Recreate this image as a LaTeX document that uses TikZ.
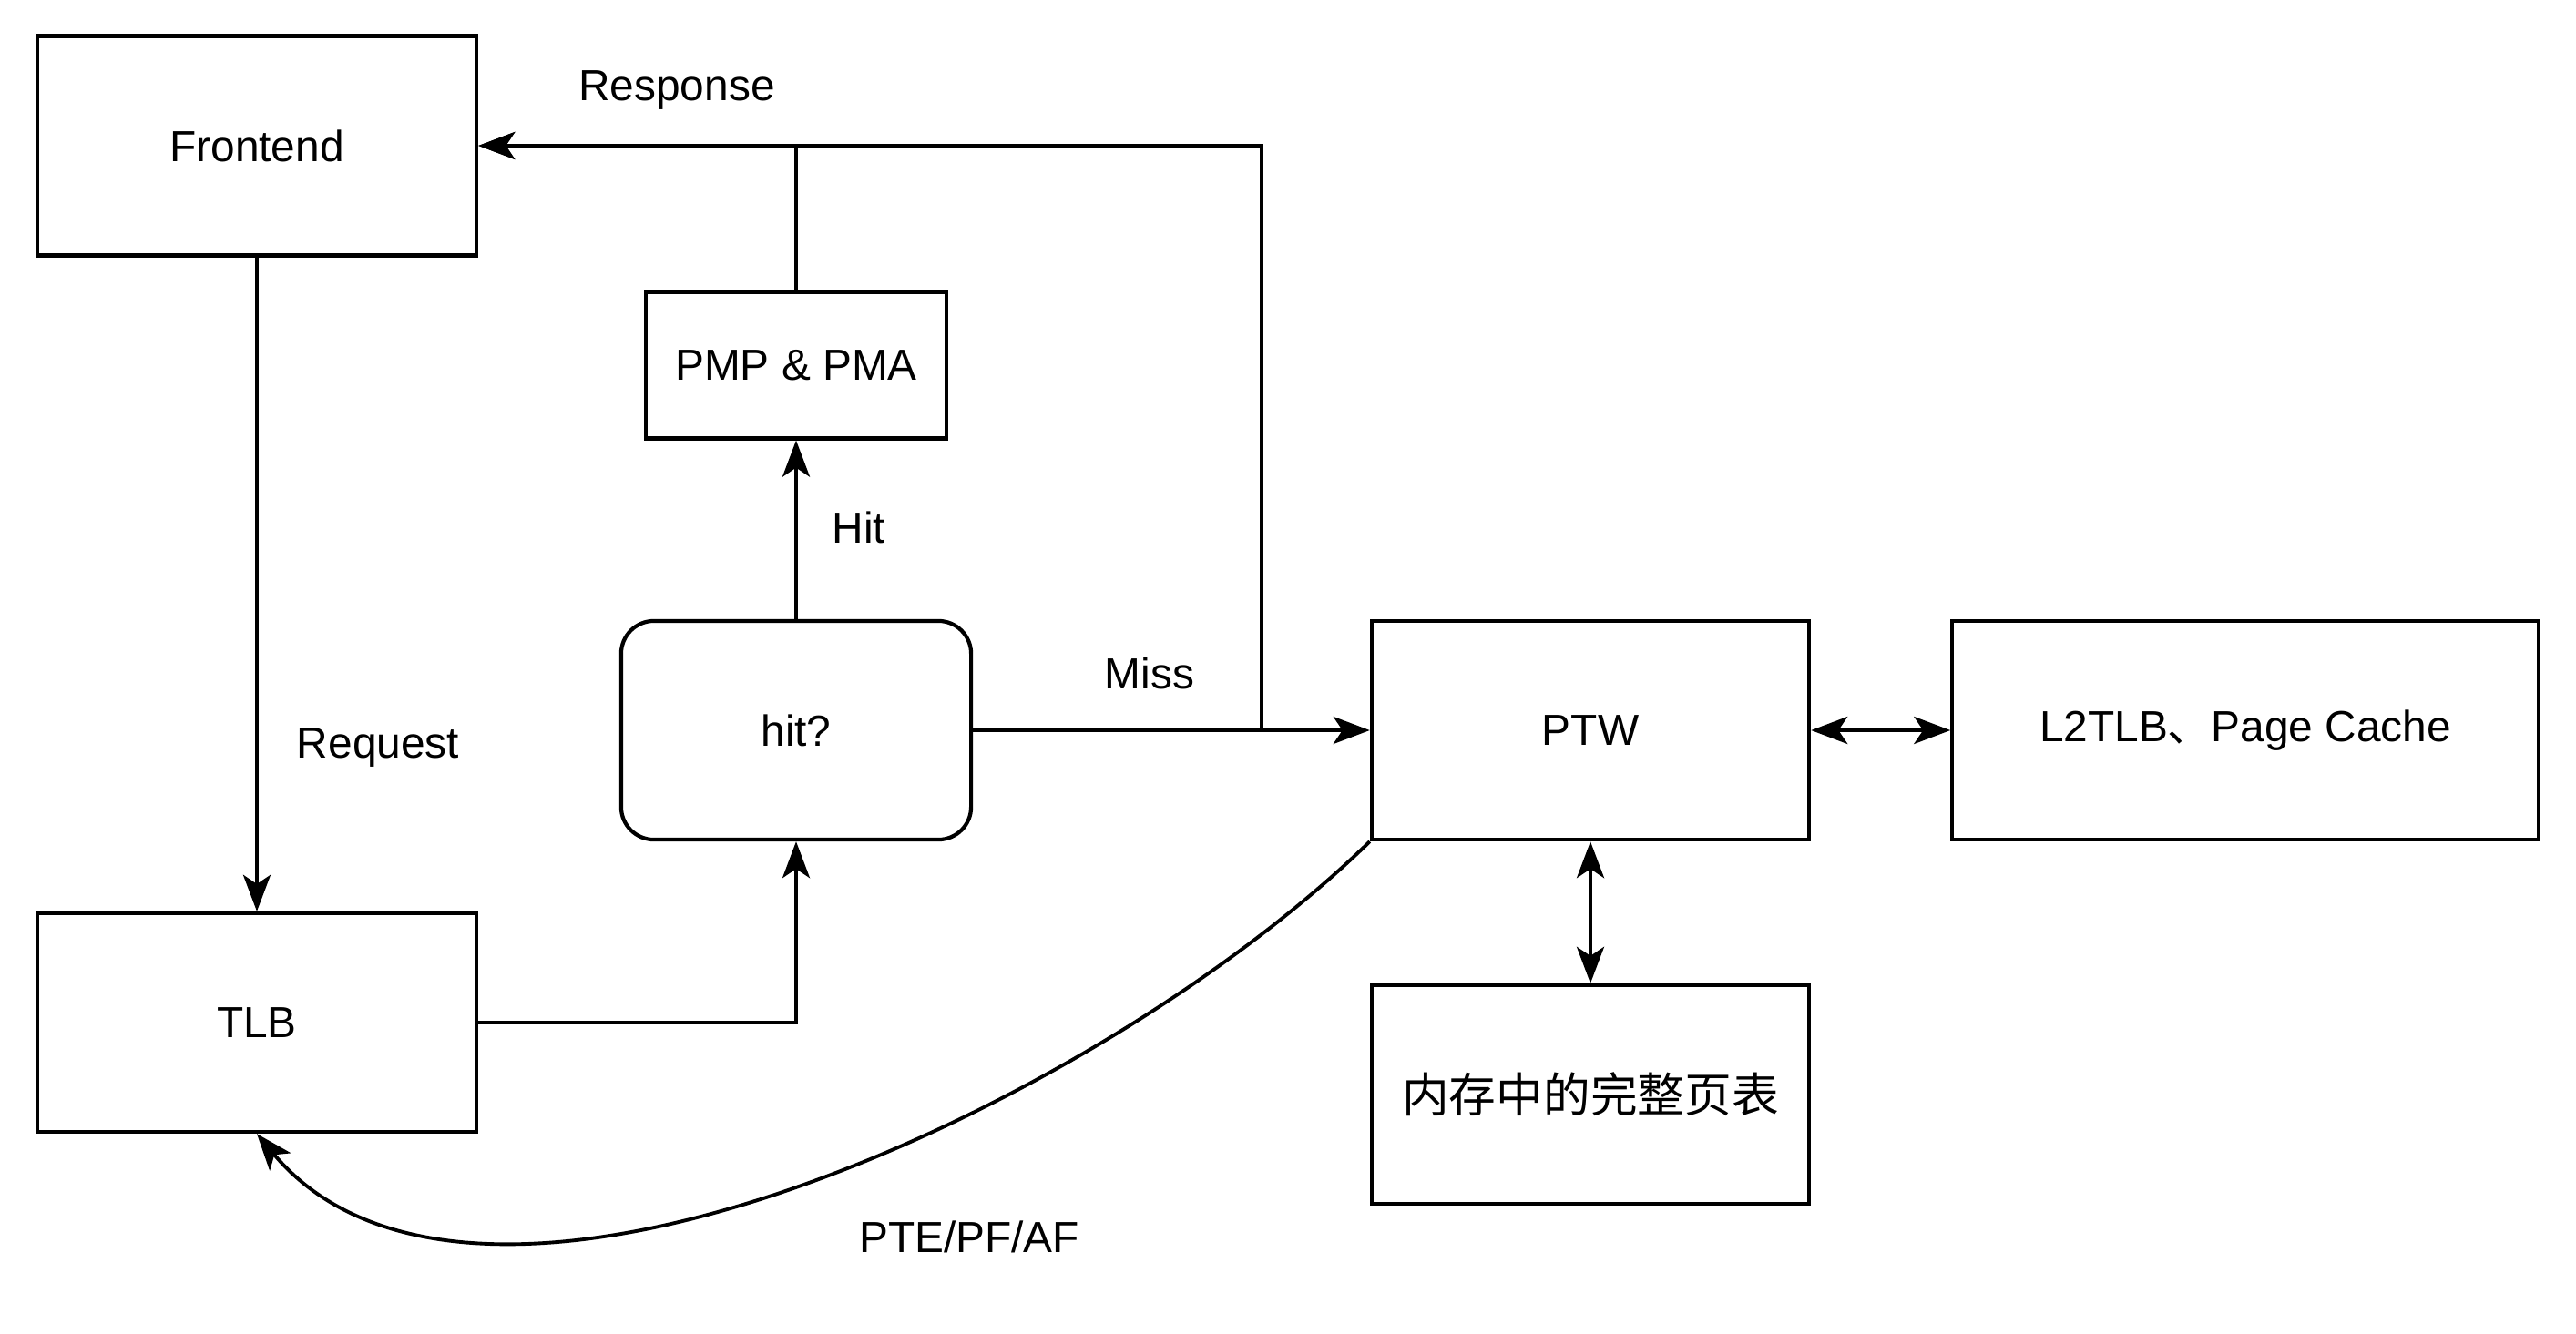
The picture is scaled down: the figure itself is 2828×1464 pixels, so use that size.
\documentclass[tikz,border=0pt]{standalone}
\usepackage{fontspec}
\setmainfont{Liberation Sans}
\newfontfamily\cjk{Noto Sans CJK SC}
\usetikzlibrary{arrows.meta, positioning}
\tikzset{
  mmublock/.style={rectangle, draw=black, line width=1.2pt,
                   minimum width=4.8cm, minimum height=2.4cm,
                   align=center, font=\fontsize{13.6pt}{16pt}\selectfont},
  mmuround/.style={mmublock, rounded corners=0.36cm},
  mmulabel/.style={font=\fontsize{13.6pt}{16pt}\selectfont},
  mmuarrow/.style={-{Stealth[length=0.4cm, width=0.3cm, inset=0.1cm]}, line width=1.1pt},
  mmubiarrow/.style={{Stealth[length=0.4cm, width=0.3cm, inset=0.1cm]}-{Stealth[length=0.4cm, width=0.3cm, inset=0.1cm]}, line width=1.1pt},
}
\begin{document}
\begin{tikzpicture}[x=0.01cm, y=-0.01cm]
  \useasboundingbox (0,0) rectangle (2828,1464);

  % Blocos
  \node[mmublock, minimum width=4.82cm, minimum height=2.41cm] (front) at (282,160) {Frontend};
  \node[mmublock, minimum width=4.82cm] (tlb) at (282,1123) {TLB};
  \node[mmublock, minimum width=3.3cm, minimum height=1.61cm] (pmp) at (874,401) {PMP \& PMA};
  \node[mmuround, minimum width=3.84cm] (hit) at (874,802) {hit?};
  \node[mmublock] (ptw) at (1746,802) {PTW};
  \node[mmublock, minimum width=6.43cm] (l2) at (2465,802) {L2TLB{\cjk 、}Page Cache};
  \node[mmublock, font=\cjk\fontsize{14.7pt}{18pt}\selectfont] (mem) at (1746,1202) {内存中的完整页表};

  % Rótulos
  \node[mmulabel] (lresp) at (743,99) {Response};
  \node[mmulabel] (lreq) at (415,821) {Request};
  \node[mmulabel] (lhit) at (943,579) {Hit};
  \node[mmulabel] (lmiss) at (1262,739) {Miss};
  \node[mmulabel] (lfault) at (1064,1358) {PTE/PF/AF};
  \coordinate (tap) at (1385,802);

  % Conexões
  \draw[mmuarrow] (front) -- (tlb);
  \draw[mmuarrow] (tlb.east) -| (hit.south);
  \draw[mmuarrow] (hit) -- (pmp);
  \draw[mmuarrow] (hit) -- (ptw);
  \draw[mmuarrow] (pmp.north) |- (front.east);
  \draw[mmuarrow] (tap) |- (front.east);
  \draw[mmubiarrow] (ptw) -- (l2);
  \draw[mmubiarrow] (ptw) -- (mem);
  \draw[mmuarrow] (ptw.south west) .. controls (1200,1220) and (520,1530) .. (tlb.south);
\end{tikzpicture}
\end{document}
